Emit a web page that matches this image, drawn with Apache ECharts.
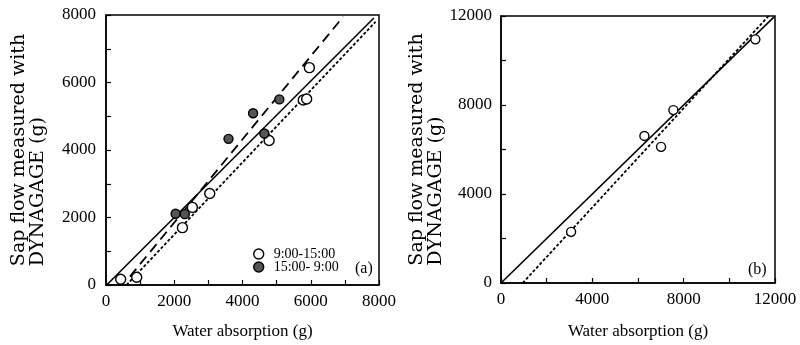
<!DOCTYPE html>
<html>
<head>
<meta charset="utf-8">
<script src="https://cdn.jsdelivr.net/npm/echarts@6.0.0/dist/echarts.min.js"></script>
<style>
  html, body { margin: 0; padding: 0; background: #fff; }
  #chart { width: 800px; height: 345px; }
</style>
</head>
<body>
<div id="chart"></div>
<script>
// panel (a): 9:00-15:00 open circles
const dayAX = [430, 900, 2240, 2530, 3040, 4780, 5780, 5880, 5960];
const dayAY = [170, 230, 1700, 2300, 2710, 4280, 5480, 5510, 6440];
// panel (a): 15:00-9:00 filled circles
const nightAX = [2040, 2310, 3590, 4310, 4640, 5080];
const nightAY = [2110, 2100, 4330, 5090, 4490, 5500];
// panel (a) fitted lines (end points)
const solidAX = [20, 7850];
const solidAY = [0, 7910];
const dashAX = [700, 6950];
const dashAY = [250, 7950];
const dotAX = [600, 7900];
const dotAY = [0, 7800];
// panel (b)
const dayBX = [3070, 6280, 7010, 7550, 11140];
const dayBY = [2300, 6610, 6120, 7770, 10950];
const solidBX = [0, 11950];
const solidBY = [0, 11950];
const dotBX = [950, 11720];
const dotBY = [0, 12000];

const seriesNames = ['9:00-15:00', '15:00- 9:00'];
const xTitle = 'Water absorption (g)';
const yTitle = '{l|Sap flow measured with}\n{l|DYNAGAGE (g)}';

const serif = '"Liberation Serif", "Times New Roman", serif';
const ink = '#000';

const chartDom = document.getElementById('chart');
const myChart = echarts.init(chartDom, null, { renderer: 'canvas' });

const pairs = (xs, ys) => xs.map((x, i) => [x, ys[i]]);

function valueAxis(gridIndex, max, interval, labelStep, margin, extra) {
    return Object.assign({
        type: 'value',
        gridIndex: gridIndex,
        min: 0,
        max: max,
        interval: interval,
        axisLine: { show: true, onZero: false, lineStyle: { color: ink, width: 1.5 } },
        axisTick: { show: true, inside: true, length: 5, lineStyle: { color: ink, width: 1.2 } },
        splitLine: { show: false },
        axisLabel: {
            color: ink,
            fontFamily: serif,
            fontSize: 17,
            margin: margin,
            formatter: v => (v % labelStep === 0 ? String(v) : '')
        }
    }, extra);
}

function fitLine(xs, ys, idx, type, width) {
    return {
        type: 'line',
        xAxisIndex: idx,
        yAxisIndex: idx,
        data: pairs(xs, ys),
        showSymbol: false,
        symbol: 'none',
        silent: true,
        z: 2,
        lineStyle: { color: ink, width: width, type: type }
    };
}

function dots(name, xs, ys, idx, size, fill) {
    return {
        name: name,
        type: 'scatter',
        xAxisIndex: idx,
        yAxisIndex: idx,
        data: pairs(xs, ys),
        symbol: 'circle',
        symbolSize: size,
        z: 5,
        itemStyle: { color: fill, borderColor: ink, borderWidth: 1.4, opacity: 1 }
    };
}

const yName = (gap) => ({
    name: yTitle,
    nameLocation: 'middle',
    nameRotate: 90,
    nameGap: gap,
    nameTextStyle: {
        color: ink,
        fontFamily: '"DejaVu Serif", serif',
        fontSize: 19,
        lineHeight: 19,
        rich: { l: { align: 'left', fontFamily: '"DejaVu Serif", serif', fontSize: 19, lineHeight: 19, color: ink } }
    }
});

const xName = (gap) => ({
    name: xTitle,
    nameLocation: 'middle',
    nameGap: gap,
    nameTextStyle: { color: ink, fontFamily: serif, fontSize: 17 }
});

const panelLabel = (text, left, top) => ({
    text: text, left: left, top: top, padding: 0,
    textStyle: { color: ink, fontFamily: serif, fontSize: 16, fontWeight: 'normal' }
});

const option = {
    animation: false,
    backgroundColor: '#fff',
    grid: [
        { left: 106, top: 15, width: 273, height: 273, show: true, borderColor: ink, borderWidth: 1.5, backgroundColor: 'transparent' },
        { left: 501, top: 16, width: 274, height: 269, show: true, borderColor: ink, borderWidth: 1.5, backgroundColor: 'transparent' }
    ],
    title: [
        panelLabel('(a)', 355, 261),
        panelLabel('(b)', 748, 262)
    ],
    legend: {
        data: seriesNames,
        orient: 'vertical',
        left: 253,
        top: 247,
        padding: 0,
        itemGap: -1,
        itemWidth: 20,
        itemHeight: 10,
        icon: 'circle',
        itemStyle: { borderWidth: 1.4 },
        textStyle: { color: ink, fontFamily: serif, fontSize: 14 }
    },
    xAxis: [
        valueAxis(0, 8000, 1000, 2000, 8, xName(38)),
        valueAxis(1, 12000, 2000, 4000, 8, xName(40))
    ],
    yAxis: [
        valueAxis(0, 8000, 1000, 2000, 10, yName(58)),
        valueAxis(1, 12000, 2000, 4000, 9, yName(54))
    ],
    series: [
        fitLine(solidAX, solidAY, 0, 'solid', 1.6),
        fitLine(dashAX, dashAY, 0, [10, 6], 1.8),
        fitLine(dotAX, dotAY, 0, [3, 2], 1.8),
        dots(seriesNames[0], dayAX, dayAY, 0, 10, '#fff'),
        dots(seriesNames[1], nightAX, nightAY, 0, 9, '#555'),
        fitLine(solidBX, solidBY, 1, 'solid', 1.6),
        fitLine(dotBX, dotBY, 1, [3, 2], 1.8),
        dots(seriesNames[0], dayBX, dayBY, 1, 9, '#fff')
    ]
};

myChart.setOption(option);
</script>
</body>
</html>
